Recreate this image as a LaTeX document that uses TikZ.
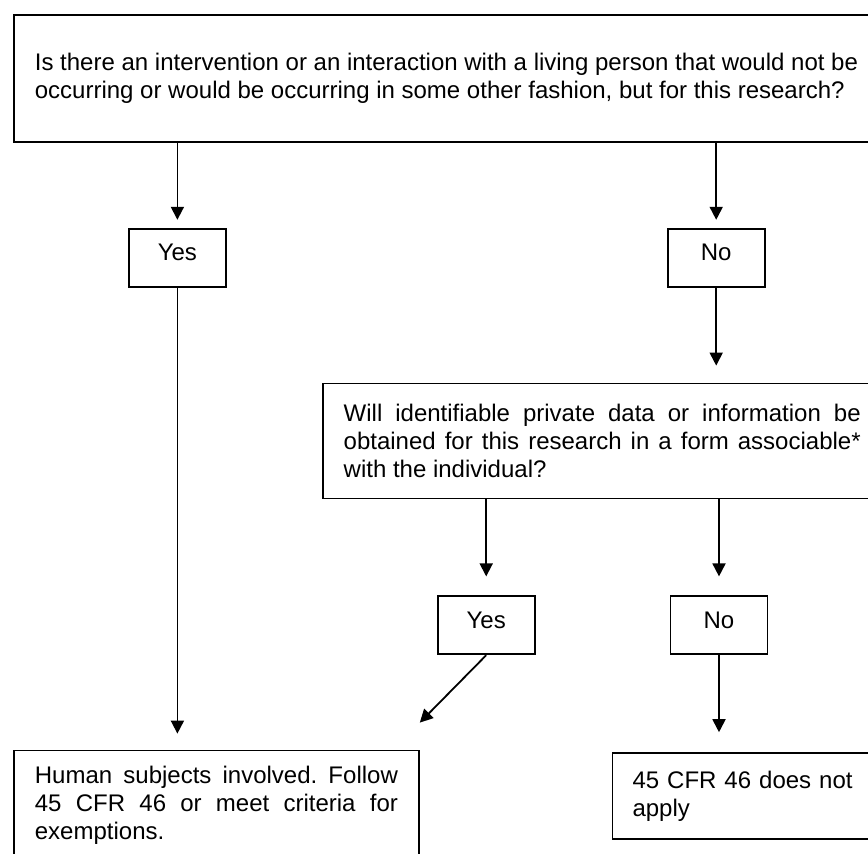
\documentclass[tikz,border=0pt]{standalone}
\usepackage{fontspec}
\setmainfont{Liberation Sans}
\usetikzlibrary{arrows.meta,positioning}

\begin{document}
\begin{tikzpicture}[
  font=\fontsize{12}{14}\selectfont\frenchspacing,
  qbox/.style={draw, line width=0.9pt, inner xsep=10.5pt, inner ysep=0pt},
  ansbox/.style={draw, line width=0.9pt, inner sep=0pt, minimum width=48.5pt, minimum height=29pt, text height=8.6pt, text depth=5.5pt},
  arr/.style={-{Triangle[length=6.5pt,width=6.5pt]}, line width=0.9pt}
]
\useasboundingbox (0,0) rectangle (434pt,-426.5pt);
\clip (0,0) rectangle (434pt,-426.5pt);

\node[qbox, align=left, minimum height=63.5pt, anchor=north west] (ask) at (6.5pt,-7pt) {Is there an intervention or an interaction with a living person that would not be\\occurring or would be occurring in some other fashion, but for this research?};
\node[ansbox, below right=42.5pt and 57.5pt of ask.south west] (yesA) {Yes};
\node[ansbox, right=220pt of yesA] (noA) {No};

\node[qbox, align=justify, text width=258.5pt, minimum height=57.5pt, below right=47.5pt and -172.5pt of noA.south west] (info) {Will identifiable private data or information be\linebreak obtained for this research in a form associable*\linebreak with the individual?};
\node[ansbox, below right=48pt and 57.5pt of info.south west] (yesB) {Yes};
\node[ansbox, right=67pt of yesB] (noB) {No};

\node[qbox, align=justify, text width=181.5pt, inner ysep=8pt, below right=231pt and -57.5pt of yesA.south west] (human) {Human subjects involved. Follow\linebreak 45 CFR 46 or meet criteria for\linebreak exemptions.};
\node[qbox, align=left, text width=109pt, inner xsep=10pt, minimum height=43pt, below right=48.5pt and -29pt of noB.south west] (none) {\mbox{45 CFR 46 does not}\\apply};
\coordinate[above=13.5pt of human.north east] (hookB);

\draw[arr, shorten >=4pt] (ask.south -| yesA) -- (yesA);
\draw[arr, shorten >=4pt] (ask.south -| noA) -- (noA);
\draw[arr, shorten >=8.5pt] (noA) -- (noA |- info.north);
\draw[arr, shorten >=9.5pt] (info.south -| yesB) -- (yesB);
\draw[arr, shorten >=9.5pt] (info.south -| noB) -- (noB);
\draw[arr, shorten >=8pt] (yesA) -- (yesA |- human.north);
\draw[arr] (yesB.south) -- (hookB);
\draw[arr, shorten >=10pt] (noB) -- (noB |- none.north);
\end{tikzpicture}
\end{document}
